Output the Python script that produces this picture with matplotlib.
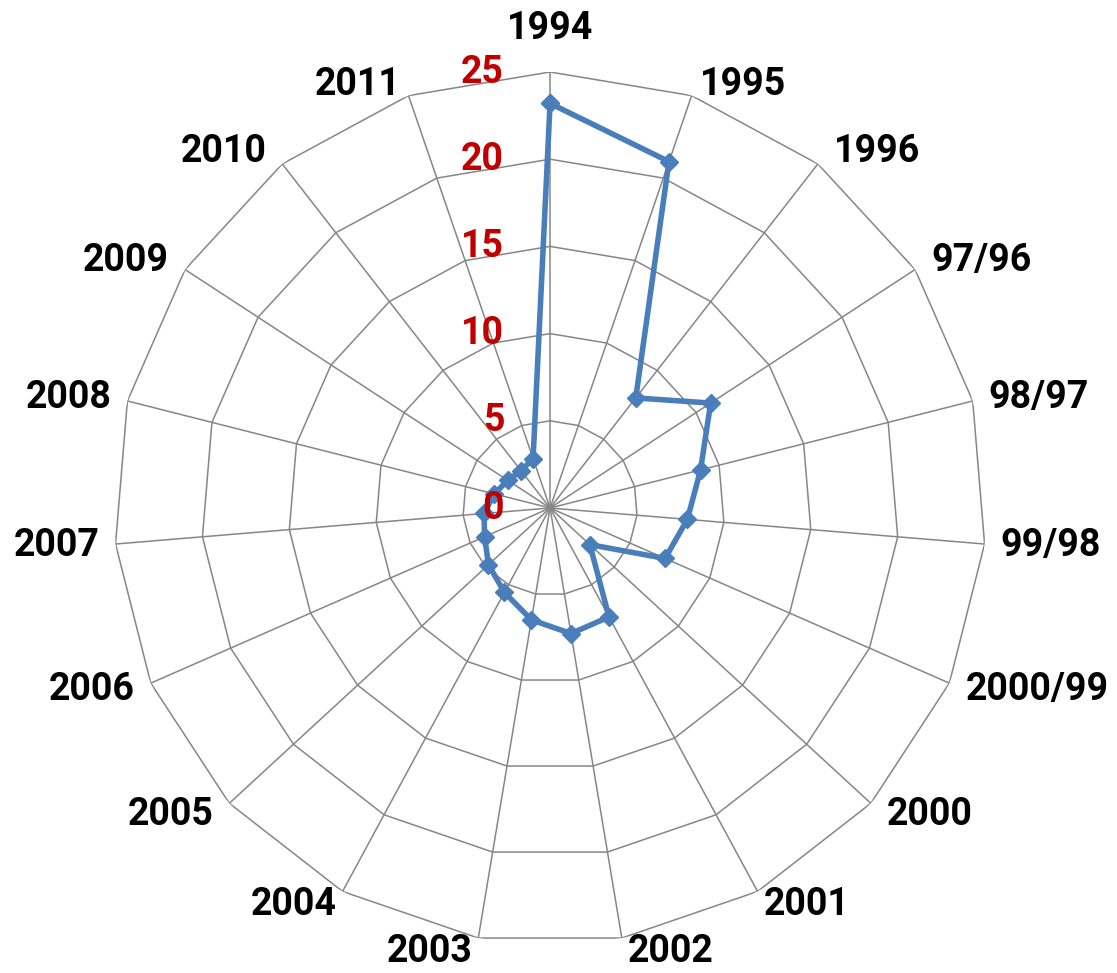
import numpy as np
import matplotlib.pyplot as plt

# -- data --
categories = ["1994", "1995", "1996", "97/96", "98/97", "99/98", "2000/99", "2000",
              "2001", "2002", "2003", "2004", "2005", "2006", "2007", "2008",
              "2009", "2010", "2011"]
values = [23.2, 21.0, 8.0, 11.0, 8.9, 7.9, 7.2, 3.1, 7.1, 7.3,
          6.5, 5.5, 4.8, 4.1, 3.8, 3.3, 2.9, 2.7, 3.0]
r_ticks = [0, 5, 10, 15, 20, 25]

plt.rcParams["font.family"] = ["Roboto", "DejaVu Sans"]

fig = plt.figure(figsize=(11.17, 9.73), dpi=100)
ax = fig.add_axes([0.1021, 0.0298, 0.7807, 0.8962], projection="polar")
ax.set_theta_zero_location("N")
ax.set_theta_direction(-1)
ax.set_ylim(0, 25)
ax.grid(False)
ax.spines["polar"].set_visible(False)
ax.set_xticks([])
ax.set_yticks([])

n = len(categories)
ang = np.linspace(0, 2 * np.pi, n, endpoint=False)
ang_c = np.append(ang, ang[0])

# polygon grid (Excel style)
grid_col = "#868686"
for r in r_ticks[1:]:
    ax.plot(ang_c, [r] * (n + 1), color=grid_col, lw=1.1, zorder=1)
for a in ang:
    ax.plot([a, a], [0, r_ticks[-1]], color=grid_col, lw=1.1, zorder=1)

# serie
vals_c = values + values[:1]
ax.plot(ang_c, vals_c, color="#4A7EBB", lw=4.0, marker="D", ms=9,
        solid_joinstyle="miter", zorder=3)

# etiquetas radiales en rojo
for v in r_ticks:
    ax.annotate(str(v), xy=(0, v), xytext=(-46, 0), textcoords="offset pixels",
                ha="right", va="center", color="#C00000", fontsize=27,
                fontweight="bold", zorder=4)

# etiquetas de categoria
for a, lab in zip(ang, categories):
    s, c = np.sin(a), np.cos(a)
    if abs(s) < 0.1:
        ha, va, dx, dy = "center", "baseline", 0, 33
    elif c > 0.8:
        ha, va, dx, dy = ("left" if s > 0 else "right"), "baseline", 8 * np.sign(s), 1
    elif c < -0.8:
        ha, va, dx, dy = ("left" if s > 0 else "right"), "top", 6 * np.sign(s), 5
    else:
        ha, va, dx, dy = ("left" if s > 0 else "right"), "center", 16 * np.sign(s), 16 * c
    ax.annotate(lab, xy=(a, r_ticks[-1]), xytext=(dx, dy), textcoords="offset pixels",
                ha=ha, va=va, fontsize=27, fontweight="bold", color="black")

fig.savefig("out.png", dpi=100)
